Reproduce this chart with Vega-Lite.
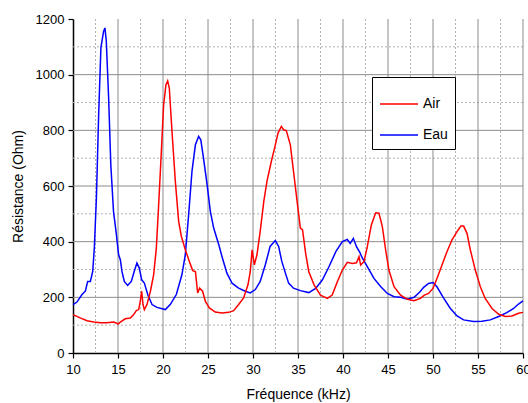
{
  "$schema": "https://vega.github.io/schema/vega-lite/v6.json",
  "width": 450,
  "height": 334,
  "autosize": {"type": "none"},
  "padding": {"left": 73, "top": 19, "right": 5, "bottom": 50},
  "background": "white",
  "config": {
    "view": {"stroke": null},
    "font": "Liberation Sans",
    "axis": {"labelFont": "Liberation Sans", "titleFont": "Liberation Sans", "labelColor": "#000", "titleColor": "#000"}
  },
  "datasets": {
    "gridMinorX": [{"v": 12.5}, {"v": 17.5}, {"v": 22.5}, {"v": 27.5}, {"v": 32.5}, {"v": 37.5}, {"v": 42.5}, {"v": 47.5}, {"v": 52.5}, {"v": 57.5}],
    "gridMajorX": [{"v": 15}, {"v": 20}, {"v": 25}, {"v": 30}, {"v": 35}, {"v": 40}, {"v": 45}, {"v": 50}, {"v": 55}, {"v": 60}],
    "gridMinorY": [{"v": 100}, {"v": 300}, {"v": 500}, {"v": 700}, {"v": 900}, {"v": 1100}],
    "gridMajorY": [{"v": 200}, {"v": 400}, {"v": 600}, {"v": 800}, {"v": 1000}],
    "curves": [
      {"f": 10, "r": 174, "s": "Eau"},
      {"f": 10.44, "r": 183, "s": "Eau"},
      {"f": 11, "r": 210, "s": "Eau"},
      {"f": 11.37, "r": 222, "s": "Eau"},
      {"f": 11.63, "r": 257, "s": "Eau"},
      {"f": 11.93, "r": 257, "s": "Eau"},
      {"f": 12.19, "r": 293, "s": "Eau"},
      {"f": 12.37, "r": 377, "s": "Eau"},
      {"f": 12.6, "r": 557, "s": "Eau"},
      {"f": 12.85, "r": 856, "s": "Eau"},
      {"f": 13.1, "r": 1096, "s": "Eau"},
      {"f": 13.4, "r": 1156, "s": "Eau"},
      {"f": 13.55, "r": 1168, "s": "Eau"},
      {"f": 13.7, "r": 1120, "s": "Eau"},
      {"f": 13.96, "r": 916, "s": "Eau"},
      {"f": 14.2, "r": 677, "s": "Eau"},
      {"f": 14.5, "r": 509, "s": "Eau"},
      {"f": 14.78, "r": 437, "s": "Eau"},
      {"f": 15.07, "r": 353, "s": "Eau"},
      {"f": 15.26, "r": 335, "s": "Eau"},
      {"f": 15.44, "r": 293, "s": "Eau"},
      {"f": 15.7, "r": 257, "s": "Eau"},
      {"f": 16.07, "r": 243, "s": "Eau"},
      {"f": 16.48, "r": 257, "s": "Eau"},
      {"f": 16.8, "r": 293, "s": "Eau"},
      {"f": 17.1, "r": 323, "s": "Eau"},
      {"f": 17.37, "r": 305, "s": "Eau"},
      {"f": 17.63, "r": 263, "s": "Eau"},
      {"f": 17.93, "r": 251, "s": "Eau"},
      {"f": 18.3, "r": 210, "s": "Eau"},
      {"f": 18.78, "r": 174, "s": "Eau"},
      {"f": 19.33, "r": 164, "s": "Eau"},
      {"f": 20.26, "r": 156, "s": "Eau"},
      {"f": 20.8, "r": 174, "s": "Eau"},
      {"f": 21.48, "r": 210, "s": "Eau"},
      {"f": 22.1, "r": 281, "s": "Eau"},
      {"f": 22.48, "r": 353, "s": "Eau"},
      {"f": 22.85, "r": 497, "s": "Eau"},
      {"f": 23.22, "r": 653, "s": "Eau"},
      {"f": 23.6, "r": 748, "s": "Eau"},
      {"f": 23.96, "r": 778, "s": "Eau"},
      {"f": 24.2, "r": 766, "s": "Eau"},
      {"f": 24.5, "r": 700, "s": "Eau"},
      {"f": 24.9, "r": 605, "s": "Eau"},
      {"f": 25.26, "r": 509, "s": "Eau"},
      {"f": 25.63, "r": 449, "s": "Eau"},
      {"f": 26.2, "r": 389, "s": "Eau"},
      {"f": 26.6, "r": 341, "s": "Eau"},
      {"f": 27.1, "r": 287, "s": "Eau"},
      {"f": 27.67, "r": 251, "s": "Eau"},
      {"f": 28.4, "r": 233, "s": "Eau"},
      {"f": 29.15, "r": 222, "s": "Eau"},
      {"f": 29.7, "r": 216, "s": "Eau"},
      {"f": 30.26, "r": 228, "s": "Eau"},
      {"f": 30.8, "r": 257, "s": "Eau"},
      {"f": 31.37, "r": 317, "s": "Eau"},
      {"f": 31.9, "r": 383, "s": "Eau"},
      {"f": 32.48, "r": 404, "s": "Eau"},
      {"f": 32.85, "r": 383, "s": "Eau"},
      {"f": 33.2, "r": 329, "s": "Eau"},
      {"f": 33.6, "r": 287, "s": "Eau"},
      {"f": 33.96, "r": 251, "s": "Eau"},
      {"f": 34.5, "r": 233, "s": "Eau"},
      {"f": 35.26, "r": 224, "s": "Eau"},
      {"f": 36.2, "r": 217, "s": "Eau"},
      {"f": 36.96, "r": 232, "s": "Eau"},
      {"f": 37.7, "r": 262, "s": "Eau"},
      {"f": 38.44, "r": 310, "s": "Eau"},
      {"f": 39.2, "r": 364, "s": "Eau"},
      {"f": 39.93, "r": 400, "s": "Eau"},
      {"f": 40.48, "r": 408, "s": "Eau"},
      {"f": 40.8, "r": 394, "s": "Eau"},
      {"f": 41.15, "r": 412, "s": "Eau"},
      {"f": 41.5, "r": 382, "s": "Eau"},
      {"f": 41.9, "r": 360, "s": "Eau"},
      {"f": 42.07, "r": 346, "s": "Eau"},
      {"f": 42.7, "r": 310, "s": "Eau"},
      {"f": 43.44, "r": 268, "s": "Eau"},
      {"f": 44.2, "r": 238, "s": "Eau"},
      {"f": 44.93, "r": 214, "s": "Eau"},
      {"f": 45.67, "r": 202, "s": "Eau"},
      {"f": 46.4, "r": 200, "s": "Eau"},
      {"f": 47.15, "r": 193, "s": "Eau"},
      {"f": 47.9, "r": 200, "s": "Eau"},
      {"f": 48.56, "r": 220, "s": "Eau"},
      {"f": 48.96, "r": 236, "s": "Eau"},
      {"f": 49.5, "r": 250, "s": "Eau"},
      {"f": 50, "r": 253, "s": "Eau"},
      {"f": 50.44, "r": 238, "s": "Eau"},
      {"f": 51.2, "r": 196, "s": "Eau"},
      {"f": 51.93, "r": 160, "s": "Eau"},
      {"f": 52.67, "r": 133, "s": "Eau"},
      {"f": 53.4, "r": 119, "s": "Eau"},
      {"f": 54.5, "r": 113, "s": "Eau"},
      {"f": 55.44, "r": 114, "s": "Eau"},
      {"f": 56.37, "r": 119, "s": "Eau"},
      {"f": 57.3, "r": 131, "s": "Eau"},
      {"f": 58.2, "r": 145, "s": "Eau"},
      {"f": 58.96, "r": 160, "s": "Eau"},
      {"f": 59.5, "r": 176, "s": "Eau"},
      {"f": 60, "r": 187, "s": "Eau"},
      {"f": 10, "r": 138, "s": "Air"},
      {"f": 10.8, "r": 126, "s": "Air"},
      {"f": 11.56, "r": 116, "s": "Air"},
      {"f": 12.3, "r": 111, "s": "Air"},
      {"f": 13.04, "r": 109, "s": "Air"},
      {"f": 13.78, "r": 109, "s": "Air"},
      {"f": 14.5, "r": 111, "s": "Air"},
      {"f": 14.8, "r": 108, "s": "Air"},
      {"f": 15, "r": 104, "s": "Air"},
      {"f": 15.26, "r": 111, "s": "Air"},
      {"f": 15.8, "r": 123, "s": "Air"},
      {"f": 16.37, "r": 126, "s": "Air"},
      {"f": 16.74, "r": 138, "s": "Air"},
      {"f": 17.04, "r": 152, "s": "Air"},
      {"f": 17.3, "r": 156, "s": "Air"},
      {"f": 17.48, "r": 186, "s": "Air"},
      {"f": 17.63, "r": 222, "s": "Air"},
      {"f": 17.78, "r": 174, "s": "Air"},
      {"f": 17.93, "r": 156, "s": "Air"},
      {"f": 18.22, "r": 174, "s": "Air"},
      {"f": 18.6, "r": 222, "s": "Air"},
      {"f": 18.96, "r": 281, "s": "Air"},
      {"f": 19.26, "r": 377, "s": "Air"},
      {"f": 19.5, "r": 521, "s": "Air"},
      {"f": 19.8, "r": 713, "s": "Air"},
      {"f": 20.07, "r": 892, "s": "Air"},
      {"f": 20.33, "r": 964, "s": "Air"},
      {"f": 20.52, "r": 978, "s": "Air"},
      {"f": 20.7, "r": 952, "s": "Air"},
      {"f": 21, "r": 796, "s": "Air"},
      {"f": 21.37, "r": 617, "s": "Air"},
      {"f": 21.74, "r": 473, "s": "Air"},
      {"f": 22.04, "r": 419, "s": "Air"},
      {"f": 22.48, "r": 371, "s": "Air"},
      {"f": 22.93, "r": 329, "s": "Air"},
      {"f": 23.3, "r": 296, "s": "Air"},
      {"f": 23.6, "r": 293, "s": "Air"},
      {"f": 23.85, "r": 216, "s": "Air"},
      {"f": 24.07, "r": 233, "s": "Air"},
      {"f": 24.4, "r": 222, "s": "Air"},
      {"f": 24.7, "r": 186, "s": "Air"},
      {"f": 25.15, "r": 162, "s": "Air"},
      {"f": 25.8, "r": 147, "s": "Air"},
      {"f": 26.55, "r": 144, "s": "Air"},
      {"f": 27.3, "r": 146, "s": "Air"},
      {"f": 27.85, "r": 152, "s": "Air"},
      {"f": 28.4, "r": 174, "s": "Air"},
      {"f": 28.96, "r": 198, "s": "Air"},
      {"f": 29.44, "r": 245, "s": "Air"},
      {"f": 29.7, "r": 293, "s": "Air"},
      {"f": 29.9, "r": 371, "s": "Air"},
      {"f": 30.15, "r": 317, "s": "Air"},
      {"f": 30.44, "r": 353, "s": "Air"},
      {"f": 30.8, "r": 437, "s": "Air"},
      {"f": 31.2, "r": 545, "s": "Air"},
      {"f": 31.55, "r": 617, "s": "Air"},
      {"f": 32.04, "r": 689, "s": "Air"},
      {"f": 32.4, "r": 736, "s": "Air"},
      {"f": 32.78, "r": 790, "s": "Air"},
      {"f": 33.15, "r": 814, "s": "Air"},
      {"f": 33.4, "r": 802, "s": "Air"},
      {"f": 33.7, "r": 799, "s": "Air"},
      {"f": 34.15, "r": 748, "s": "Air"},
      {"f": 34.5, "r": 653, "s": "Air"},
      {"f": 34.9, "r": 545, "s": "Air"},
      {"f": 35.26, "r": 449, "s": "Air"},
      {"f": 35.5, "r": 443, "s": "Air"},
      {"f": 35.85, "r": 358, "s": "Air"},
      {"f": 36.2, "r": 292, "s": "Air"},
      {"f": 36.8, "r": 244, "s": "Air"},
      {"f": 37.5, "r": 208, "s": "Air"},
      {"f": 38.26, "r": 196, "s": "Air"},
      {"f": 38.8, "r": 208, "s": "Air"},
      {"f": 39.37, "r": 256, "s": "Air"},
      {"f": 39.93, "r": 298, "s": "Air"},
      {"f": 40.48, "r": 326, "s": "Air"},
      {"f": 41.04, "r": 322, "s": "Air"},
      {"f": 41.5, "r": 324, "s": "Air"},
      {"f": 41.78, "r": 346, "s": "Air"},
      {"f": 41.96, "r": 316, "s": "Air"},
      {"f": 42.33, "r": 328, "s": "Air"},
      {"f": 42.7, "r": 382, "s": "Air"},
      {"f": 43.15, "r": 460, "s": "Air"},
      {"f": 43.63, "r": 504, "s": "Air"},
      {"f": 44, "r": 502, "s": "Air"},
      {"f": 44.37, "r": 454, "s": "Air"},
      {"f": 44.74, "r": 370, "s": "Air"},
      {"f": 45.1, "r": 298, "s": "Air"},
      {"f": 45.67, "r": 238, "s": "Air"},
      {"f": 46.4, "r": 208, "s": "Air"},
      {"f": 47.15, "r": 193, "s": "Air"},
      {"f": 47.9, "r": 188, "s": "Air"},
      {"f": 48.6, "r": 196, "s": "Air"},
      {"f": 49.04, "r": 208, "s": "Air"},
      {"f": 49.5, "r": 214, "s": "Air"},
      {"f": 50, "r": 232, "s": "Air"},
      {"f": 50.44, "r": 268, "s": "Air"},
      {"f": 51, "r": 316, "s": "Air"},
      {"f": 51.55, "r": 364, "s": "Air"},
      {"f": 52.1, "r": 406, "s": "Air"},
      {"f": 52.67, "r": 436, "s": "Air"},
      {"f": 53.1, "r": 456, "s": "Air"},
      {"f": 53.4, "r": 456, "s": "Air"},
      {"f": 53.78, "r": 430, "s": "Air"},
      {"f": 54.15, "r": 370, "s": "Air"},
      {"f": 54.7, "r": 298, "s": "Air"},
      {"f": 55.26, "r": 238, "s": "Air"},
      {"f": 55.8, "r": 196, "s": "Air"},
      {"f": 56.56, "r": 160, "s": "Air"},
      {"f": 57.3, "r": 139, "s": "Air"},
      {"f": 58.04, "r": 131, "s": "Air"},
      {"f": 58.78, "r": 133, "s": "Air"},
      {"f": 59.5, "r": 143, "s": "Air"},
      {"f": 60, "r": 146, "s": "Air"}
    ]
  },
  "layer": [
    {
      "data": {"name": "gridMinorX"},
      "mark": {"type": "rule", "color": "#b4b4b4", "strokeWidth": 1, "strokeDash": [2, 2]},
      "encoding": {"x": {"field": "v", "type": "quantitative", "scale": {"domain": [10, 60], "nice": false, "zero": false}}}
    },
    {
      "data": {"name": "gridMinorY"},
      "mark": {"type": "rule", "color": "#b4b4b4", "strokeWidth": 1, "strokeDash": [2, 2]},
      "encoding": {"y": {"field": "v", "type": "quantitative", "scale": {"domain": [0, 1200], "nice": false}}}
    },
    {
      "data": {"name": "gridMajorX"},
      "mark": {"type": "rule", "color": "#8c8c8c", "strokeWidth": 1},
      "encoding": {"x": {"field": "v", "type": "quantitative"}}
    },
    {
      "data": {"name": "gridMajorY"},
      "mark": {"type": "rule", "color": "#8c8c8c", "strokeWidth": 1},
      "encoding": {"y": {"field": "v", "type": "quantitative"}}
    },
    {
      "data": {"name": "curves"},
      "mark": {"type": "line", "strokeWidth": 1.5, "interpolate": "linear"},
      "encoding": {
        "x": {"field": "f", "type": "quantitative",
          "axis": {"values": [10, 15, 20, 25, 30, 35, 40, 45, 50, 55, 60], "format": "d", "labelFlush": false, "labelOverlap": false, "labelBound": false, "grid": false, "domainColor": "#000", "domainWidth": 1.5, "tickColor": "#000", "tickSize": 5, "tickWidth": 1.2, "labelFontSize": 13, "labelPadding": 5, "title": "Fréquence (kHz)", "titleFontSize": 14, "titleFontWeight": "normal", "titlePadding": 11}},
        "y": {"field": "r", "type": "quantitative",
          "axis": {"values": [0, 200, 400, 600, 800, 1000, 1200], "format": "d", "labelFlush": false, "labelOverlap": false, "grid": false, "domainColor": "#000", "domainWidth": 1.5, "tickColor": "#000", "tickSize": 5, "tickWidth": 1.2, "labelFontSize": 13, "labelPadding": 4, "title": "Résistance (Ohm)", "titleFontSize": 14, "titleFontWeight": "normal", "titlePadding": 10}},
        "color": {"field": "s", "type": "nominal",
          "scale": {"domain": ["Air", "Eau"], "range": ["#ff0000", "#0000ff"]},
          "legend": {"orient": "none", "legendX": 299, "legendY": 58, "title": null, "strokeColor": "#000", "fillColor": "#fff", "padding": 7, "labelFontSize": 14, "labelFont": "Liberation Sans", "labelColor": "#000", "symbolType": "stroke", "symbolSize": 1444, "symbolStrokeWidth": 1.5, "labelOffset": 4, "rowPadding": 4}}
      }
    }
  ]
}
